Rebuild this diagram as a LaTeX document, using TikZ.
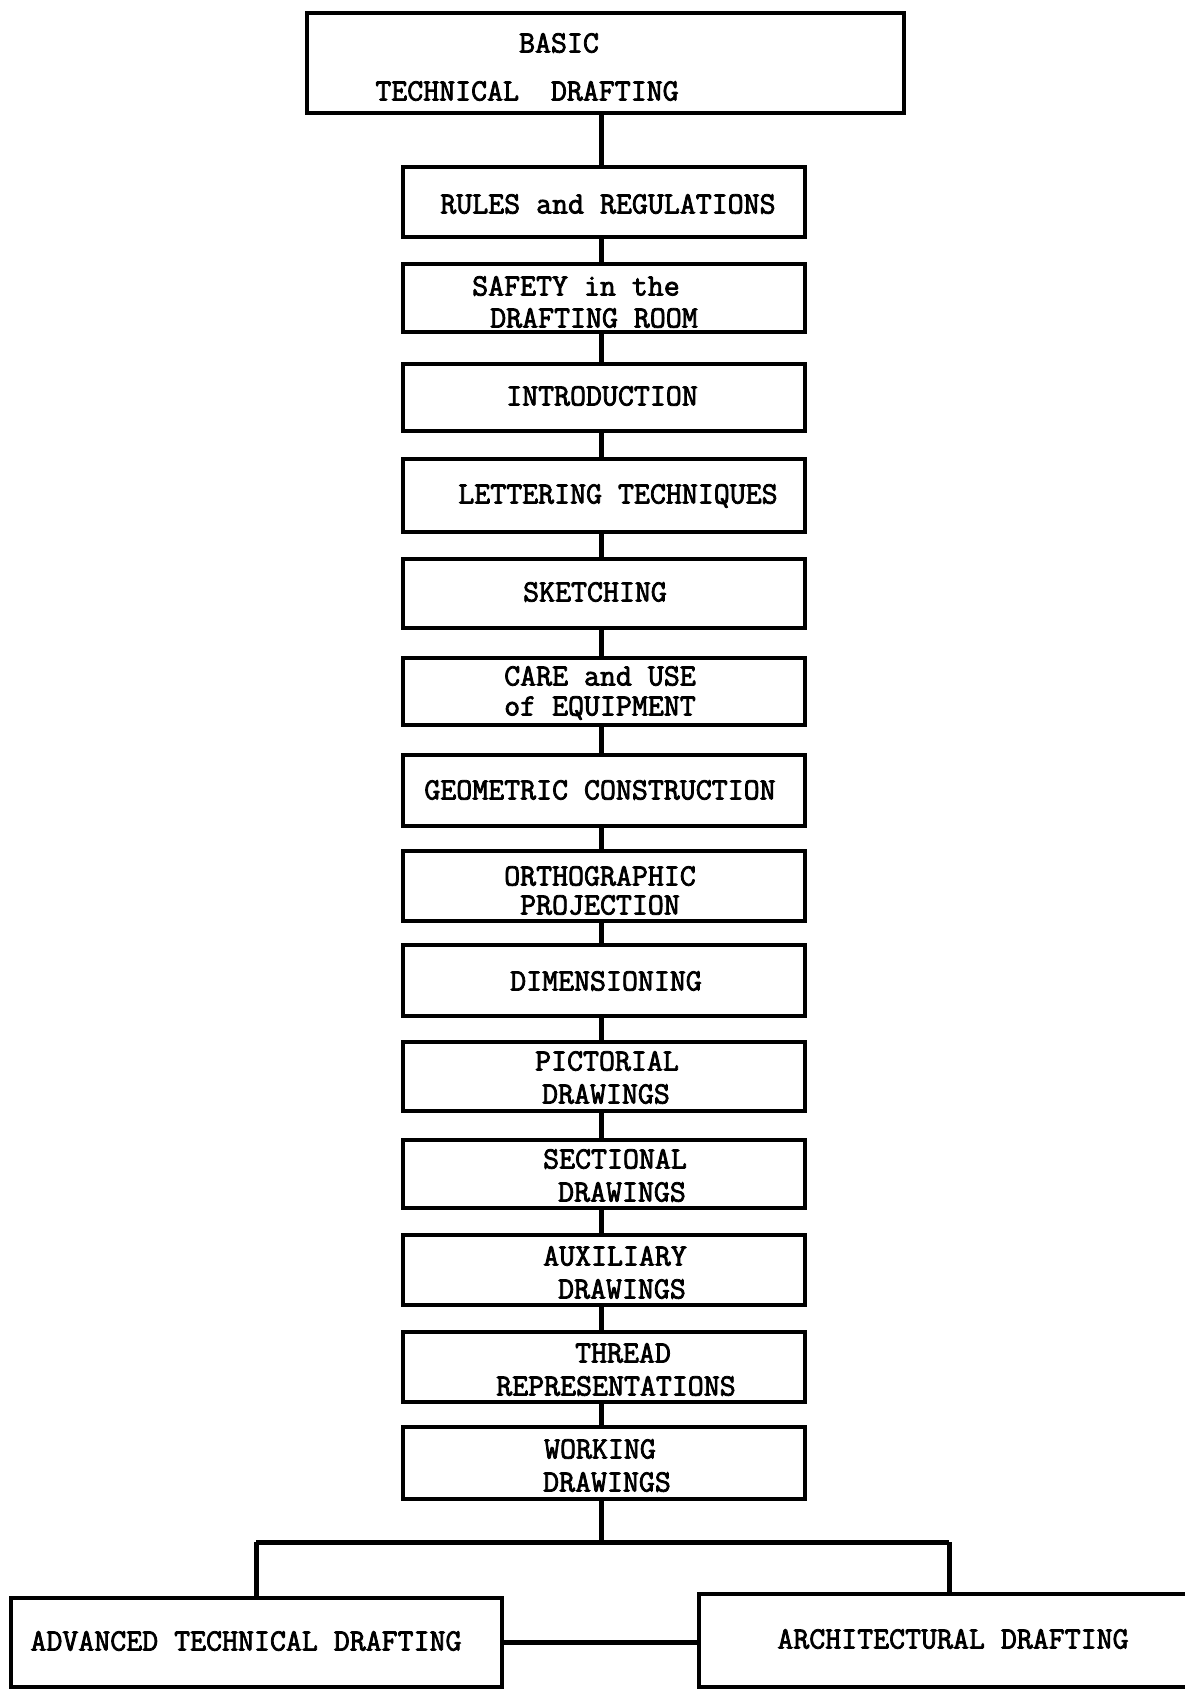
\documentclass[tikz,border=0pt]{standalone}
\usepackage{fontspec}
\newfontfamily\twfont[FakeBold=2.5]{Latin Modern Mono}
\begin{document}
\begin{tikzpicture}[x=1pt,y=-1pt,
  box/.style={draw, line width=4pt, minimum width=402pt, inner sep=0pt, anchor=center},
  lbl/.style={font=\twfont\fontsize{31}{34}\selectfont, inner sep=0pt, anchor=center},
  conn/.style={line width=5pt}]
\useasboundingbox (0,0) rectangle (1185,1690);
\fill[white] (0,0) rectangle (1185,1690);
% boxes
\node[box, minimum width=597pt, minimum height=100pt] (top) at (605.5,63) {};
\node[box, minimum height=70pt] (rules)  at (604,202) {};
\node[box, minimum height=68pt] (safety) at (604,298) {};
\node[box, minimum height=67pt] (intro)  at (604,397.5) {};
\node[box, minimum height=73pt] (letter) at (604,495.5) {};
\node[box, minimum height=69pt] (sketch) at (604,593.5) {};
\node[box, minimum height=67pt] (care)   at (604,691.5) {};
\node[box, minimum height=71pt] (geom)   at (604,790.5) {};
\node[box, minimum height=70pt] (ortho)  at (604,886) {};
\node[box, minimum height=71pt] (dim)    at (604,980.5) {};
\node[box, minimum height=69pt] (pict)   at (604,1076.5) {};
\node[box, minimum height=68pt] (sect)   at (604,1174) {};
\node[box, minimum height=70pt] (aux)    at (604,1270) {};
\node[box, minimum height=70pt] (thread) at (604,1367) {};
\node[box, minimum height=72pt] (work)   at (604,1463) {};
\node[box, minimum width=491pt, minimum height=89pt] (adv)  at (256.5,1642.5) {};
\node[box, minimum width=496pt, minimum height=93pt] (arch) at (947,1640.5) {};
% labels
\node[lbl] (t1a) at (559,43) {BASIC};
\node[lbl] (t1b) at (527,91) {TECHNICAL\ \ DRAFTING};
\node[lbl] (t2) at (608,204) {RULES and REGULATIONS};
\node[lbl] (t3a) at (576,286) {SAFETY in the};
\node[lbl] (t3b) at (594,318) {DRAFTING ROOM};
\node[lbl] (t4) at (602,396) {INTRODUCTION};
\node[lbl] (t5) at (618,496) {LETTERING TECHNIQUES};
\node[lbl] (t6) at (595,592) {SKETCHING};
\node[lbl] (t7a) at (600,676) {CARE and USE};
\node[lbl] (t7b) at (600,708) {of EQUIPMENT};
\node[lbl] (t8) at (600,790) {GEOMETRIC CONSTRUCTION};
\node[lbl] (t9a) at (600,876) {ORTHOGRAPHIC};
\node[lbl] (t9b) at (600,905) {PROJECTION};
\node[lbl] (t10) at (606,981) {DIMENSIONING};
\node[lbl] (t11a) at (607,1061) {PICTORIAL};
\node[lbl] (t11b) at (606,1094) {DRAWINGS};
\node[lbl] (t12a) at (615,1159) {SECTIONAL};
\node[lbl] (t12b) at (622,1192) {DRAWINGS};
\node[lbl] (t13a) at (615,1256) {AUXILIARY};
\node[lbl] (t13b) at (622,1289) {DRAWINGS};
\node[lbl] (t14a) at (623,1353) {THREAD};
\node[lbl] (t14b) at (616,1386) {REPRESENTATIONS};
\node[lbl] (t15a) at (600,1449) {WORKING};
\node[lbl] (t15b) at (607,1482) {DRAWINGS};
\node[lbl] (t16) at (246,1641) {ADVANCED TECHNICAL DRAFTING};
\node[lbl] (t17) at (953,1639) {ARCHITECTURAL DRAFTING};
% connectors (slightly left of box centre, as in the original)
\coordinate (cx) at (601,0);
\draw[conn] (cx |- rules.north) -- (cx |- top.south);
\foreach \a/\b in {rules/safety, safety/intro, intro/letter, letter/sketch, sketch/care,
  care/geom, geom/ortho, ortho/dim, dim/pict, pict/sect, sect/aux, aux/thread, thread/work}
  \draw[conn] (cx |- \a.south) -- (cx |- \b.north);
\coordinate (split) at (601,1542);
\coordinate (sl) at (256,1542);
\coordinate (sr) at (949,1542);
\draw[conn] (cx |- work.south) -- (split);
\draw[conn] (sl) -- (sr);
\draw[conn] (sl) -- (sl |- adv.north);
\draw[conn] (sr) -- (sr |- arch.north);
\draw[conn] (adv.east) -- (adv.east -| arch.west);
\end{tikzpicture}
\end{document}
